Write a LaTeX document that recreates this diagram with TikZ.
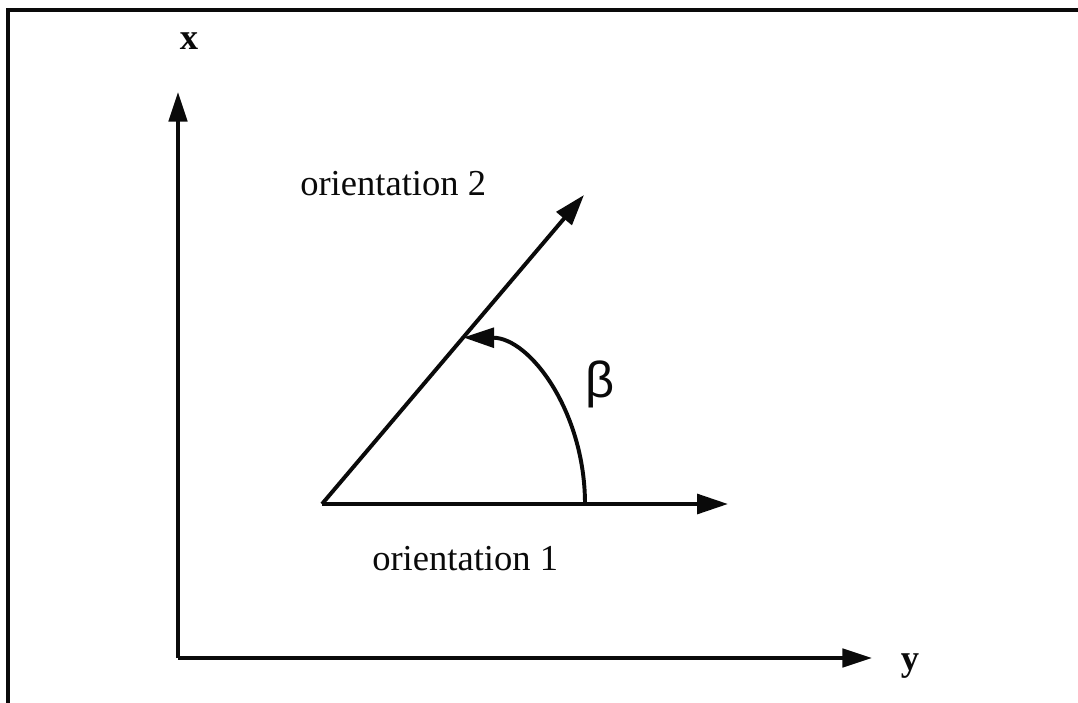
\documentclass[tikz,border=0pt]{standalone}
\usepackage{fontspec}
\setmainfont{Liberation Serif}
\newfontfamily\greekfont{Liberation Sans}
\usepackage{tikz}
\usetikzlibrary{calc, positioning, arrows.meta}
\definecolor{ink}{RGB}{10, 10, 10}
\tikzset{
  axisline/.style={draw=ink, line width=2.8pt, -{Triangle[length=21pt, width=13pt]}},
  orientline/.style={draw=ink, line width=2.8pt, -{Triangle[length=22pt, width=14pt]}},
  txt/.style={font=\fontsize{26}{30}\selectfont, text=ink, inner sep=0pt},
  axislabel/.style={font=\fontsize{26}{30}\selectfont\bfseries, text=ink, inner sep=0pt}
}

\begin{document}
\begin{tikzpicture}[x=0.025cm, y=-0.025cm]
  \useasboundingbox (0,0) rectangle (1078,703);
  \clip (0,0) rectangle (1078,703);
  % --- frame ---
  \draw[ink, line width=2.8pt] (8,720) -- (8,10) -- (1100,10);

  % --- axes ---
  \coordinate (origin) at (178,658);
  \coordinate (xtip) at (178,92);
  \coordinate (ytip) at (872,658);
  \draw[axisline] (origin) -- (xtip);
  \draw[axisline] (origin) -- (ytip);
  \node[axislabel] (xlab) at (189,41) {x};
  \node[axislabel] (ylab) at (910,666) {y};

  % --- orientations ---
  \coordinate (pivot) at (322,504);
  \coordinate (orient1) at (728,504);
  \coordinate (orient2) at (584,195);
  \draw[orientline] (pivot) -- (orient1);
  \draw[orientline] (pivot) -- (orient2);
  \node[txt, anchor=base west] (lab2) at (300,195) {orientation 2};
  \node[txt, anchor=base west] (lab1) at (372,570) {orientation 1};

  % --- angle beta ---
  \coordinate (arcstart) at (585,504);
  \coordinate (arcend) at ($(pivot)!0.539!(orient2)$);
  \draw[orientline] (arcstart) .. controls (585,412) and (530,338) .. (arcend);
  \node[txt, font=\fontsize{36}{40}\selectfont\greekfont] (beta) at (600,384) {β};
\end{tikzpicture}
\end{document}
